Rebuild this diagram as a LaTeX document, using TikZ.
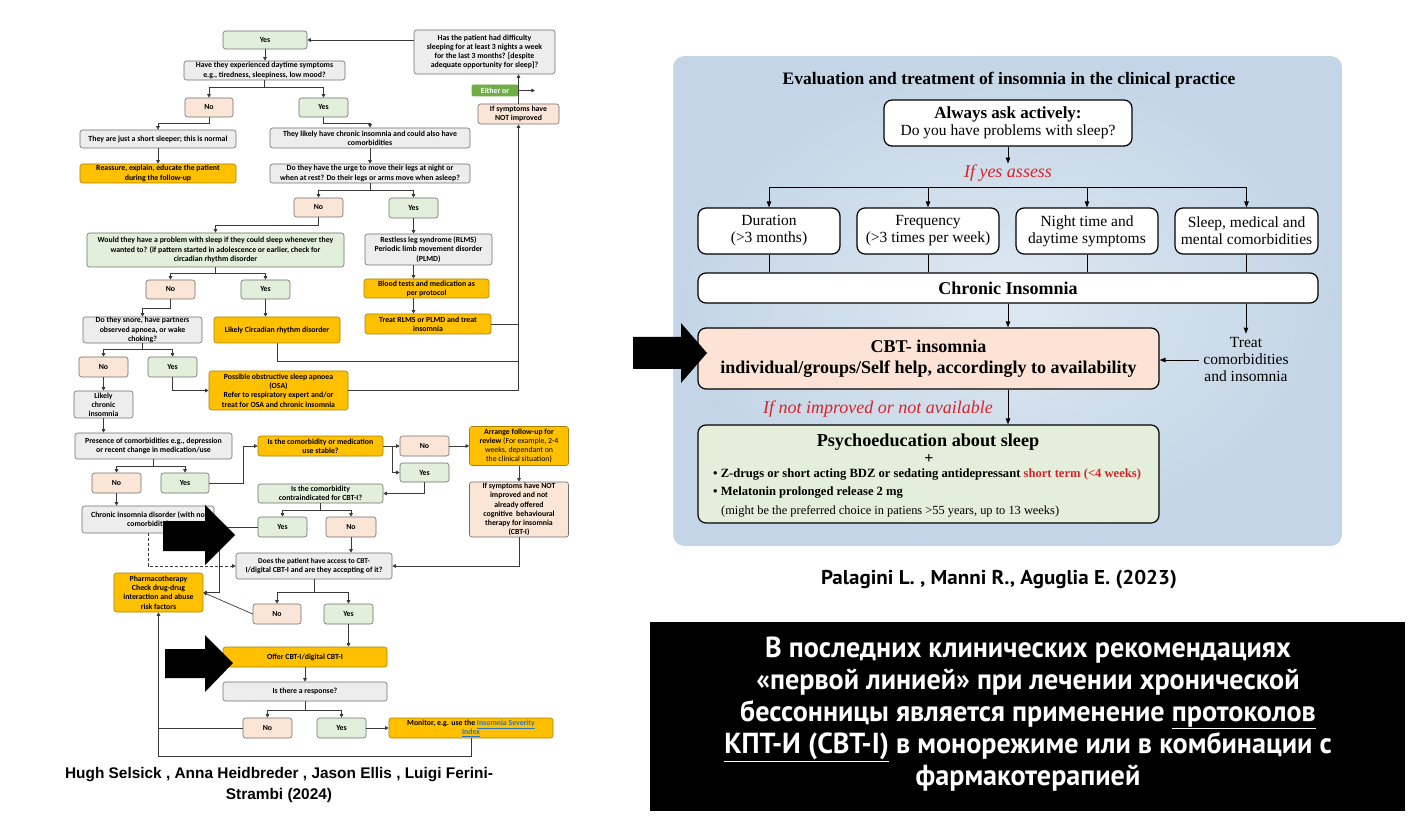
\documentclass[tikz,border=0pt]{standalone}
\usepackage{fontspec}
\setmainfont{Liberation Serif}
\newfontfamily\carl{Carlito}
\newfontfamily\lser{Liberation Serif}
\newfontfamily\ptn[FakeStretch=0.97]{PT Sans}
\newfontfamily\ptc[FakeStretch=1.05]{PT Sans}
\newfontfamily\lsans{Liberation Sans}
\usetikzlibrary{arrows.meta}
\definecolor{lgray}{HTML}{EDEDED}
\definecolor{lgreen}{HTML}{E2EFDA}
\definecolor{lsalm}{HTML}{FBE5D6}
\definecolor{lorange}{HTML}{FFC000}
\definecolor{lobord}{HTML}{A98200}
\definecolor{lbord}{HTML}{6F6F6F}
\definecolor{lline}{HTML}{3A3A3A}
\definecolor{egreen}{HTML}{70AD47}
\definecolor{linkc}{HTML}{2F75B5}
\definecolor{panelin}{HTML}{DDE8F2}
\definecolor{panelout}{HTML}{C3D5E6}
\definecolor{cbtfill}{HTML}{FCE3D6}
\definecolor{psyfill}{HTML}{E3EFDA}
\definecolor{redc}{HTML}{D8232A}
\newcommand\lfont{\carl\bfseries\fontsize{7.8}{9.2}\selectfont}
\newcommand\rfont{\lser\fontsize{15.5}{17}\selectfont}
\newcommand\mknode[6]{\node[#1, minimum width=#4pt, minimum height=#5pt] (#2) at (#3) {#6};}
\tikzset{
 lb/.style={draw=lbord, line width=0.6pt, rounded corners=2.5pt, align=center, inner sep=0pt, font=\lfont},
 gy/.style={lb, fill=lgray},
 gn/.style={lb, fill=lgreen},
 sa/.style={lb, fill=lsalm},
 og/.style={lb, fill=lorange, draw=lobord},
 ei/.style={lb, fill=egreen, draw=egreen, text=white, rounded corners=1pt},
 la/.style={-{Triangle[length=3.6pt,width=3.6pt]}, line width=0.7pt, draw=lline},
 ll/.style={line width=0.7pt, draw=lline},
 rb/.style={draw=black, line width=1.2pt, rounded corners=8pt, fill=white, align=center, font=\rfont, inner sep=0pt},
 ra/.style={-{Triangle[length=6pt,width=4.5pt]}, line width=0.8pt},
 rl/.style={line width=0.8pt},
}
\begin{document}
\begin{tikzpicture}[x=1pt,y=-1pt]
\useasboundingbox (0,0) rectangle (1428,818);
\fill[white] (0,0) rectangle (1428,818);

% ---------------- left flowchart ----------------
\mknode{gn}{yes1}{265,40}{84}{18}{Yes}
\mknode{gy}{q1}{484.5,52}{141}{44}{Has the patient had difficulty\\sleeping for at least 3 nights a week\\for the last 3 months? [despite\\adequate opportunity for sleep]?}
\mknode{gy}{day}{264.5,70.5}{161}{19}{Have they experienced daytime symptoms\\e.g., tiredness, sleepiness, low mood?}
\mknode{sa}{no1}{209,107.5}{48}{19}{No}
\mknode{gn}{yes2}{323.5,107.5}{49}{19}{Yes}
\mknode{ei}{either}{495,90.5}{46}{11}{Either or}
\mknode{sa}{ifnot1}{518.5,114}{81}{20}{If symptoms have\\NOT improved}
\mknode{gy}{short}{158,139}{156}{18}{They are just a short sleeper; this is normal}
\mknode{og}{reass}{158,173.5}{156}{19}{Reassure, explain, educate the patient\\during the follow-up}
\mknode{gy}{chron}{370,138}{200}{20}{They likely have chronic insomnia and could also have\\comorbidities}
\mknode{gy}{legs}{370,173.5}{200}{19}{Do they have the urge to move their legs at night or\\when at rest? Do their legs or arms move when asleep?}
\mknode{sa}{no2}{318.5,207.5}{49}{19}{No}
\mknode{gn}{yes3}{413.5,208}{49}{20}{Yes}
\mknode{gn}{would}{215.5,250}{257}{34}{Would they have a problem with sleep if they could sleep whenever they\\wanted to? (if pattern started in adolescence or earlier, check for\\circadian rhythm disorder}
\mknode{gy}{rls}{428.5,249.5}{127}{31}{Restless leg syndrome (RLMS)\\Periodic limb movement disorder\\(PLMD)}
\mknode{og}{blood}{426.5,288.5}{125}{19}{Blood tests and medication as\\per protocol}
\mknode{og}{treat}{428,324}{126}{20}{Treat RLMS or PLMD and treat\\insomnia}
\mknode{sa}{no3}{170.5,289.5}{49}{19}{No}
\mknode{gn}{yes4}{265.5,289.5}{49}{19}{Yes}
\mknode{gy}{snore}{142.5,330}{119}{26}{Do they snore, have partners\\observed apnoea, or wake\\choking?}
\mknode{og}{circ}{277,330}{126}{26}{Likely Circadian rhythm disorder}
\mknode{sa}{no4}{103.5,367}{49}{20}{No}
\mknode{gn}{yes5}{172.5,367}{49}{20}{Yes}
\mknode{og}{osa}{278.5,390.5}{139}{39}{Possible obstructive sleep apnoea\\(OSA)\\Refer to respiratory expert and/or\\treat for OSA and chronic insomnia}
\mknode{gy}{lci}{103.5,404.5}{59}{27}{Likely\\chronic\\insomnia}
\mknode{gy}{pres}{153.5,446}{157}{26}{Presence of comorbidities e.g., depression\\or recent change in medication/use}
\mknode{sa}{no5}{116.5,483}{49}{20}{No}
\mknode{gn}{yes6}{185,483}{48}{20}{Yes}
\mknode{og}{stable}{320.5,446}{125}{20}{Is the comorbidity or medication\\use stable?}
\mknode{sa}{no6}{424.5,446}{49}{20}{No}
\mknode{gn}{yes7}{424.5,472.5}{49}{19}{Yes}
\mknode{og}{arrange}{519,446}{99}{39}{Arrange follow-up for\\review {\mdseries (For example, 2-4}\\{\mdseries weeks, dependant on}\\{\mdseries the clinical situation)}}
\mknode{sa}{ifnot2}{519,509.5}{99}{55}{If symptoms have NOT\\improved and not\\already offered\\cognitive\ \ behavioural\\therapy for insomnia\\(CBT-I)}
\mknode{gn}{contra}{320.5,493.5}{125}{19}{Is the comorbidity\\contraindicated for CBT-I?}
\mknode{gn}{yes8}{282.5,527}{49}{20}{Yes}
\mknode{sa}{no7}{351,527}{50}{20}{No}
\mknode{gy}{cid}{148,519.5}{132}{27}{Chronic insomnia disorder (with no\\comorbidity)}
\mknode{gy}{access}{314,566}{156}{26}{\fontsize{7.4}{9.2}\selectfont Does the patient have access to CBT-\\I/digital CBT-I and are they accepting of it?}
\mknode{og}{pharm}{158.5,592.5}{89}{39}{Pharmacotherapy\\Check drug-drug\\interaction and abuse\\risk factors}
\mknode{sa}{no8}{277,614}{48}{20}{No}
\mknode{gn}{yes9}{348.5,614}{49}{20}{Yes}
\mknode{og}{offer}{305,657}{164}{20}{Offer CBT-I/digital CBT-I}
\mknode{gy}{resp}{305,691.5}{164}{19}{Is there a response?}
\mknode{sa}{no9}{267.5,728}{49}{20}{No}
\mknode{gn}{yes10}{341.5,728}{49}{20}{Yes}
\mknode{og}{mon}{471,728}{164}{20}{Monitor, e.g. use the {\color{linkc}\underline{Insomnia Severity}}\\{\color{linkc}\underline{Index}}}
\coordinate (eitherend) at (535,90.5);

% connectors left
\draw[la] (yes1.east -| q1.west) -- (yes1.east);
\draw[la] (yes1.south) -- (yes1.south |- day.north);
\draw[la] (day.south) -- ++(0,7.5) -| (no1.north);
\draw[la] (day.south) -- ++(0,7.5) -| (yes2.north);
\draw[la] (either.east) -- (eitherend);
\draw[la] (ifnot1.north) -- (ifnot1.north |- q1.south);
\draw[la] (osa.east) -| (ifnot1.south);
\draw[ll] (treat.east) -- (treat.east -| ifnot1.south);
\draw[ll] (circ.south) -- ++(0,18) coordinate (cj) -- (cj -| ifnot1.south);
\draw[la] (no1.south) -- ++(0,6) -| (short.north);
\draw[la] (yes2.south) -- ++(0,6) -| (chron.north);
\draw[la] (short.south) -- (reass.north);
\draw[la] (chron.south) -- (legs.north);
\draw[la] (legs.south) -- ++(0,7) -| (no2.north);
\draw[la] (legs.south) -- ++(0,7) -| (yes3.north);
\draw[la] (no2.south) -- ++(0,8) -| (would.north);
\draw[la] (yes3.south) -- (yes3.south |- rls.north);
\draw[la] (yes3.south |- rls.south) -- (yes3.south |- blood.north);
\draw[la] (yes3.south |- blood.south) -- (yes3.south |- treat.north);
\draw[la] (would.south) -- ++(0,6) -| (no3.north);
\draw[la] (would.south) -- ++(0,6) -| (yes4.north);
\draw[la] (no3.south) -- ++(0,9) -| (snore.north);
\draw[la] (yes4.south) -- (yes4.south |- circ.north);
\draw[la] (snore.south) -- ++(0,6) -| (no4.north);
\draw[la] (snore.south) -- ++(0,6) -| (yes5.north);
\draw[la] (yes5.south) |- (osa.west);
\draw[la] (no4.south) -- (lci.north);
\draw[la] (lci.south) -- (lci.south |- pres.north);
\draw[la] (pres.south) -- ++(0,7) -| (no5.north);
\draw[la] (pres.south) -- ++(0,7) -| (yes6.north);
\draw[la] (no5.south) -- (no5.south |- cid.north);
\draw[la] (yes6.east) -- ++(34,0) |- (stable.west);
\draw[la] (stable.east) -- (no6.west);
\draw[la] (stable.east) -- ++(9,0) |- (yes7.west);
\draw[la] (no6.east) -- (arrange.west);
\draw[la] (arrange.south) -- (ifnot2.north);
\draw[la] (ifnot2.south) |- (access.east);
\draw[la] (yes7.south) |- (contra.east);
\draw[la] (contra.south) -- ++(0,7) -| (yes8.north);
\draw[la] (contra.south) -- ++(0,7) -| (no7.north);
\draw[la] (no7.south) -- (no7.south |- access.north);
\draw[la, densely dashed] (cid.south) |- (access.west);
\draw[la] (yes8.west) -- ++(-38,0) |- (pharm.east);
\draw[la] (access.south) -- ++(0,13) -| (no8.north);
\draw[la] (access.south) -- ++(0,13) -| (yes9.north);
\draw[la] (no8.west) -- (pharm.east);
\draw[la] (yes9.south) -- (yes9.south |- offer.north);
\draw[la] (offer.south) -- (resp.north);
\draw[la] (resp.south) -- ++(0,9) -| (no9.north);
\draw[la] (resp.south) -- ++(0,9) -| (yes10.north);
\draw[la] (yes10.east) -- (mon.west);
\draw[la] (mon.south) -- ++(0,18) -| (pharm.south);
\draw[ll] (no9.west) -- (no9.west -| pharm.south);

% big black arrows
\fill[black] (163,521) -- (205,521) -- (205,505) -- (235,535) -- (205,565) -- (205,551) -- (163,551) -- cycle;
\fill[black] (165,649) -- (205,649) -- (205,635) -- (233,663) -- (205,692) -- (205,678) -- (165,678) -- cycle;

\node[font=\lsans\bfseries\fontsize{15.4}{21}\selectfont, align=center] (cite1) at (279,785) {Hugh Selsick , Anna Heidbreder , Jason Ellis , Luigi Ferini-\\Strambi (2024)};

% ---------------- right panel ----------------
\shade[rounded corners=12pt, inner color=panelin, outer color=panelout] (672,55) rectangle (1343,547);
\draw[rounded corners=12pt, draw=white, line width=2pt] (672,55) rectangle (1343,547);

\node[font=\lser\bfseries\fontsize{17.5}{20}\selectfont] (title) at (1009,80) {Evaluation and treatment of insomnia in the clinical practice};
\node[rb, minimum width=248pt, minimum height=46pt] (ask) at (1008,123) {{\fontsize{17}{19}\selectfont\bfseries Always ask actively:}\\Do you have problems with sleep?};
\node[font=\lser\itshape\fontsize{18}{20}\selectfont, text=redc, inner sep=1pt] (ifyes) at (1008,173) {If yes assess};
\draw[ra] (ask.south) -- (ifyes.north);
\node[rb, minimum width=142pt, minimum height=46pt] (dur) at (769,231) {Duration\\(>3 months)};
\node[rb, minimum width=142pt, minimum height=46pt] (freq) at (928,231) {Frequency\\(>3 times per week)};
\node[rb, minimum width=142pt, minimum height=46pt] (night) at (1087,231) {Night time and\\daytime symptoms};
\node[rb, minimum width=143pt, minimum height=46pt] (slp) at (1246.5,231) {Sleep, medical and\\mental comorbidities};
\coordinate (barL) at (769,187);
\coordinate (barR) at (1246.5,187);
\draw[rl] (barL) -- (barR);
\draw[ra] (barL) -- (dur.north);
\draw[ra] (barL -| freq.north) -- (freq.north);
\draw[ra] (barL -| night.north) -- (night.north);
\draw[ra] (barR) -- (slp.north);
\node[rb, minimum width=620pt, minimum height=30pt, font=\lser\bfseries\fontsize{18}{20}\selectfont] (chronic) at (1008,288) {Chronic Insomnia};
\draw[rl] (dur.south) -- (dur.south |- chronic.north);
\draw[rl] (freq.south) -- (freq.south |- chronic.north);
\draw[rl] (night.south) -- (night.south |- chronic.north);
\draw[rl] (slp.south) -- (slp.south |- chronic.north);
\node[rb, fill=cbtfill, minimum width=461pt, minimum height=61pt, font=\lser\bfseries\fontsize{18}{20.5}\selectfont] (cbt) at (928.5,358.5) {CBT- insomnia\\individual/groups/Self help, accordingly to availability};
\node[font=\rfont, align=center, inner sep=4pt] (treat2) at (1246,360) {Treat\\comorbidities\\and insomnia};
\draw[ra] (chronic.south) -- (chronic.south |- cbt.north);
\draw[ra] (treat2.north |- chronic.south) -- (treat2.north);
\draw[ra] (treat2.west) -- (treat2.west -| cbt.east);
\node[font=\lser\itshape\fontsize{18}{20}\selectfont, text=redc] (ifnot) at (878,409) {If not improved or not available};
\node[rb, fill=psyfill, minimum width=461pt, minimum height=98pt] (psy) at (928.5,474) {};
\draw[ra] (cbt.south -| chronic.south) -- (psy.north -| chronic.south);
\node[font=\lser\bfseries\fontsize{18.2}{21}\selectfont, inner sep=0pt] (psyt) at (928,442) {Psychoeducation about sleep};
\node[font=\lser\bfseries\fontsize{16}{18}\selectfont, inner sep=0pt] (plus) at (929,459) {+};
\node[font=\lser\bfseries\fontsize{12.6}{14}\selectfont, inner sep=0pt, anchor=west] (b1) at (713,475) {\textbullet\ Z-drugs or short acting BDZ or sedating antidepressant {\color{redc}short term (<4 weeks)}};
\node[font=\lser\bfseries\fontsize{12.6}{14}\selectfont, inner sep=0pt, anchor=west] (b2) at (713,493) {\textbullet\ Melatonin prolonged release 2 mg};
\node[font=\lser\fontsize{12.4}{14}\selectfont, inner sep=0pt, anchor=west] (b3) at (721,511) {(might be the preferred choice in patiens >55 years, up to 13 weeks)};

% big arrow right
\fill[black] (633,337) -- (681,337) -- (681,323) -- (707,353) -- (681,383) -- (681,369) -- (633,369) -- cycle;

\node[font=\ptc\bfseries\fontsize{20}{22}\selectfont] (cite2) at (999,580) {Palagini L. , Manni R., Aguglia E. (2023)};

% black box
\fill[black] (650,622) rectangle (1405,811);
\node[font=\ptn\bfseries\fontsize{29}{32}\selectfont, text=white, align=center] (ru) at (1028,714) {В последних клинических рекомендациях\\«первой линией» при лечении хронической\\бессонницы является применение \underline{протоколов}\\\underline{КПТ-И (СВТ-I)} в монорежиме или в комбинации с\\фармакотерапией};
\end{tikzpicture}
\end{document}
